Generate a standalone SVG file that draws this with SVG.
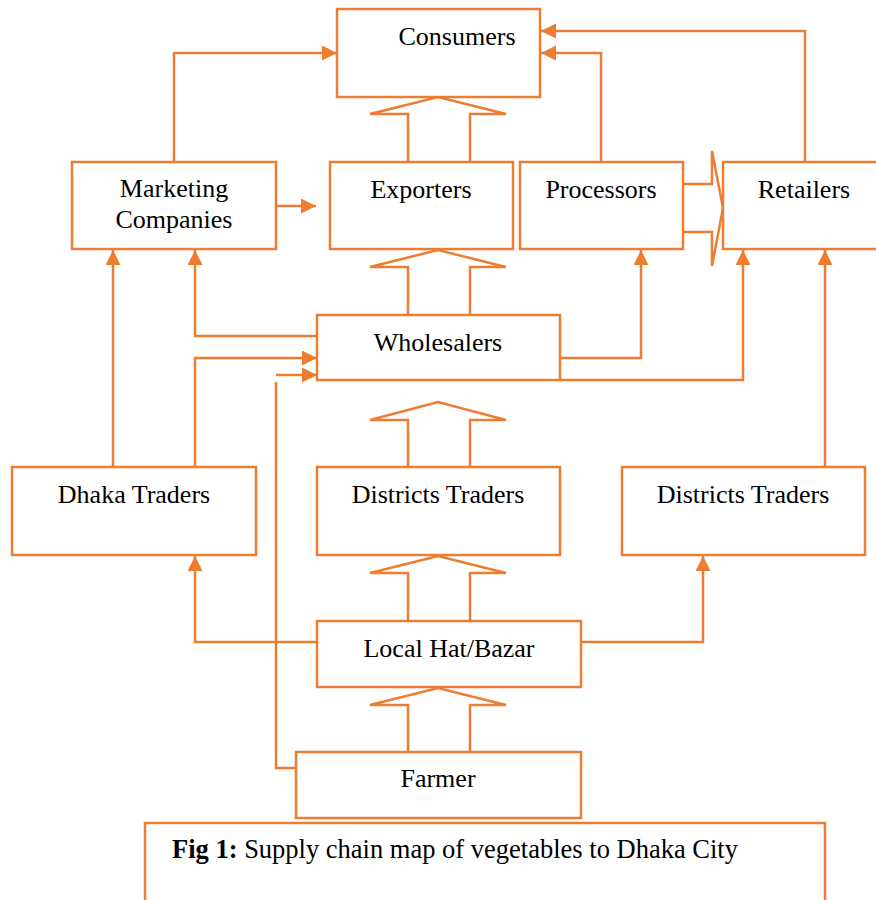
<svg xmlns="http://www.w3.org/2000/svg" width="876" height="900" viewBox="0 0 876 900">
<style>
.box{fill:#fff;stroke:#ED7D31;stroke-width:2.5}
.ln{fill:none;stroke:#ED7D31;stroke-width:2.5}
.blk{fill:#fff;stroke:#ED7D31;stroke-width:2.5;stroke-linejoin:miter}
text{font-family:"Liberation Serif","Times New Roman",serif;font-size:26px;fill:#000;text-anchor:middle}
.cap{text-anchor:start;font-size:26.5px}
</style>
<defs>
<marker id="ah" markerUnits="userSpaceOnUse" markerWidth="16" markerHeight="16" viewBox="0 0 16 16" refX="15" refY="7.5" orient="auto">
<path d="M0,0 L15,7.5 L0,15 z" fill="#ED7D31"/>
</marker>
</defs>
<rect width="876" height="900" fill="#fff"/>

<g id="connectors">
<polyline class="ln" points="174,162 174,53 337,53" marker-end="url(#ah)"/>
<line class="ln" x1="276" y1="206" x2="316" y2="206" marker-end="url(#ah)"/>
<polyline class="ln" points="601,162 601,53 541,53" marker-end="url(#ah)"/>
<polyline class="ln" points="805,162 805,31 541,31" marker-end="url(#ah)"/>
<polyline class="ln" points="317,336 195,336 195,250" marker-end="url(#ah)"/>
<line class="ln" x1="113" y1="467" x2="113" y2="250" marker-end="url(#ah)"/>
<polyline class="ln" points="195,467 195,358 317,358" marker-end="url(#ah)"/>
<line class="ln" x1="276" y1="375" x2="317" y2="375" marker-end="url(#ah)"/>
<polyline class="ln" points="276,382 276,768 296,768"/>
<polyline class="ln" points="560,358 641,358 641,250" marker-end="url(#ah)"/>
<polyline class="ln" points="560,380 743,380 743,250" marker-end="url(#ah)"/>
<line class="ln" x1="825" y1="467" x2="825" y2="250" marker-end="url(#ah)"/>
<polyline class="ln" points="317,642 195,642 195,556" marker-end="url(#ah)"/>
<polyline class="ln" points="581,642 703,642 703,556" marker-end="url(#ah)"/>
<polyline class="blk" points="408,162 408,114 370,114 438,97 506,114 470,114 470,162"/>
<polyline class="blk" points="408,315 408,267 370,267 438,250 506,267 470,267 470,315"/>
<polyline class="blk" points="408,467 408,420 370,420 438,402 506,420 470,420 470,467"/>
<polyline class="blk" points="408,621 408,573 370,573 438,556 506,573 470,573 470,621"/>
<polyline class="blk" points="408,752 408,705 370,705 438,688 506,705 470,705 470,752"/>
<polyline class="blk" points="683,184 712,184 712,151 723,208 712,266 712,232 683,232"/>
</g>

<g id="consumers"><rect class="box" x="337" y="9" width="203" height="88"/><text x="457" y="45">Consumers</text></g>
<g id="marketing"><rect class="box" x="72" y="162" width="204" height="87"/><text x="174" y="197">Marketing</text><text x="174" y="228">Companies</text></g>
<g id="exporters"><rect class="box" x="330" y="162" width="183" height="87"/><text x="421" y="198">Exporters</text></g>
<g id="processors"><rect class="box" x="520" y="162" width="163" height="87"/><text x="601" y="198">Processors</text></g>
<g id="retailers"><rect class="box" x="723" y="162" width="160" height="87"/><text x="804" y="198">Retailers</text></g>
<g id="wholesalers"><rect class="box" x="317" y="315" width="243" height="65"/><text x="438" y="351">Wholesalers</text></g>
<g id="dhaka"><rect class="box" x="12" y="467" width="244" height="88"/><text x="134" y="503">Dhaka Traders</text></g>
<g id="districts1"><rect class="box" x="317" y="467" width="243" height="88"/><text x="438" y="503">Districts Traders</text></g>
<g id="districts2"><rect class="box" x="622" y="467" width="243" height="88"/><text x="743" y="503">Districts Traders</text></g>
<g id="localhat"><rect class="box" x="317" y="621" width="264" height="66"/><text x="449" y="657">Local Hat/Bazar</text></g>
<g id="farmer"><rect class="box" x="296" y="752" width="285" height="66"/><text x="438" y="787">Farmer</text></g>
<g id="caption"><rect class="box" x="145" y="823" width="680" height="100"/><text class="cap" x="172" y="858"><tspan font-weight="bold">Fig 1:</tspan> Supply chain map of vegetables to Dhaka City</text></g>
</svg>
